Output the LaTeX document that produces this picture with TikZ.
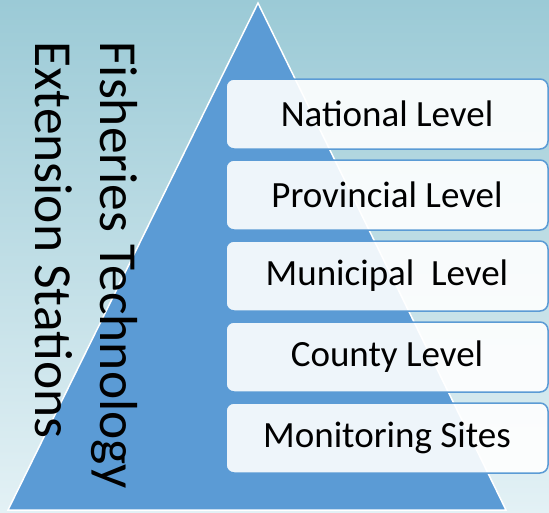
\documentclass[tikz,border=0pt]{standalone}
\usepackage{fontspec}
\setmainfont{Carlito}
\definecolor{pyrblue}{RGB}{91,155,213}
\definecolor{bgtop}{RGB}{155,202,214}
\definecolor{bgbottom}{RGB}{227,241,245}
\tikzstyle{levelbox} = [draw=pyrblue,line width=1.5pt,fill=white,fill opacity=0.9,text opacity=1,rounded corners=8pt,minimum width=322pt,minimum height=70pt,inner sep=0pt,outer sep=0pt,font=\fontsize{37}{42}\selectfont]
\tikzstyle{sidetext} = [rotate=-90,anchor=base west,inner sep=0pt,font=\fontsize{53.5}{64}\selectfont]

\begin{document}
\begin{tikzpicture}[x=1pt,y=-1pt]
			\shade[top color=bgtop,bottom color=bgbottom] (0,0) rectangle (549,512);
			\useasboundingbox (0,0) rectangle (549,512);
			\draw[fill=pyrblue,draw=white,line width=1.5pt] (258,3) -- (506,510) -- (8,510) -- cycle;
			
			\node[sidetext] (fisheries) at (100,41) {Fisheries Technology};
			\node[sidetext] (extension) at (35,41) {Extension Stations};
			
			\node[levelbox] (national) at (387,114) {National Level};
			\node[levelbox] (provincial) at (387,195) {Provincial Level};
			\node[levelbox] (municipal) at (387,276) {Municipal\ \ Level};
			\node[levelbox] (county) at (387,357) {County Level};
			\node[levelbox] (sites) at (387,438) {Monitoring Sites};
		\end{tikzpicture}
\end{document}
